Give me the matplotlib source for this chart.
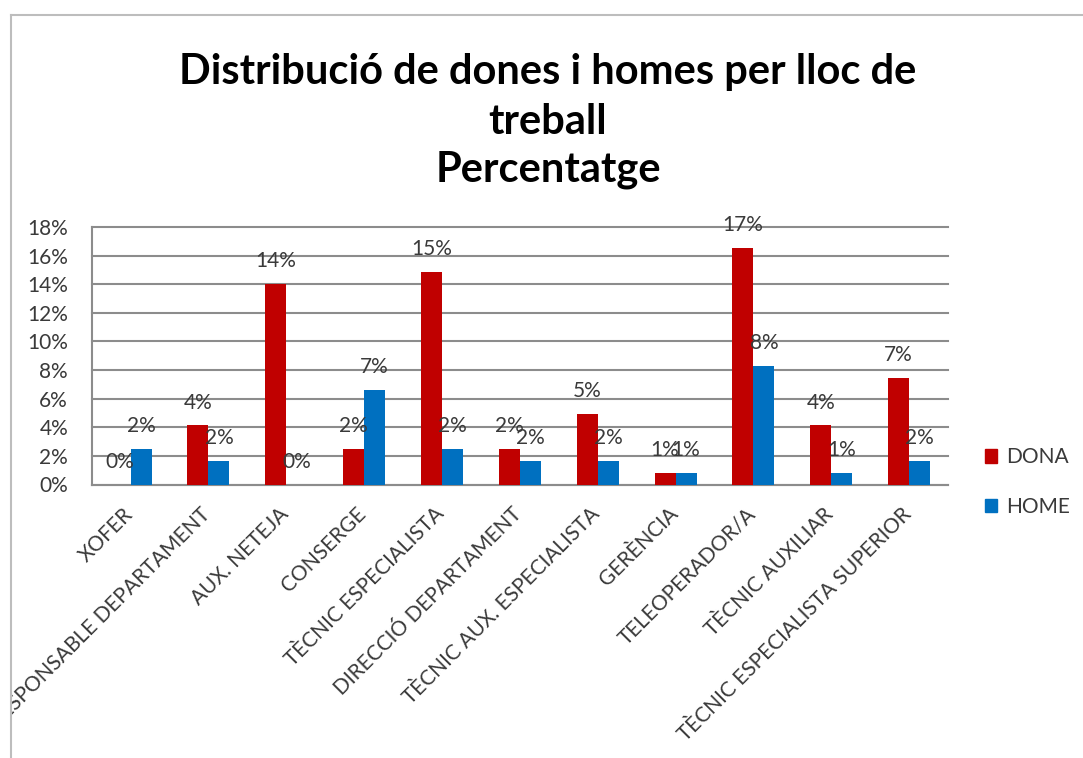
import matplotlib
matplotlib.use("Agg")
import matplotlib.pyplot as plt
import numpy as np
from matplotlib.transforms import Bbox, TransformedBbox, ScaledTranslation
from matplotlib.patches import Rectangle
from matplotlib.lines import Line2D

# Job categories and the share of staff (percent) for women and men
categories = [
    "XOFER",
    "RESPONSABLE DEPARTAMENT",
    "AUX. NETEJA",
    "CONSERGE",
    "TÈCNIC ESPECIALISTA",
    "DIRECCIÓ DEPARTAMENT",
    "TÈCNIC AUX. ESPECIALISTA",
    "GERÈNCIA",
    "TELEOPERADOR/A",
    "TÈCNIC AUXILIAR",
    "TÈCNIC ESPECIALISTA SUPERIOR",
]
dona = [0.0, 4.13, 14.05, 2.48, 14.88, 2.48, 4.96, 0.83, 16.53, 4.13, 7.44]
home = [2.48, 1.65, 0.0, 6.61, 2.48, 1.65, 1.65, 0.83, 8.26, 0.83, 1.65]
series_names = ["DONA", "HOME"]
y_ticks = [0, 2, 4, 6, 8, 10, 12, 14, 16, 18]
title_lines = ["Distribució de dones i homes per lloc de", "treball", "Percentatge"]

RED = "#C00000"
BLUE = "#0070C0"
GRID = "#8C8C8C"
TXT = "#3A3A3A"
FS = 15

plt.rcParams["font.family"] = ["Lato", "DejaVu Sans"]

W, H = 1083, 758
fig = plt.figure(figsize=(W / 100, H / 100), dpi=100)
fig.patch.set_facecolor("white")

left, right, top, bottom = 91.7, 948.0, 227.0, 484.5
ax = fig.add_axes([left / W, 1 - bottom / H, (right - left) / W, (bottom - top) / H])

x = np.arange(len(categories))
bw = 0.27
b1 = ax.bar(x - bw / 2, dona, bw, color=RED, zorder=3)
b2 = ax.bar(x + bw / 2, home, bw, color=BLUE, zorder=3)

for bars, vals in ((b1, dona), (b2, home)):
    for rect, v in zip(bars, vals):
        ax.annotate(f"{v:.0f}%", (rect.get_x() + rect.get_width() / 2, v),
                    xytext=(0, 16.5), textcoords="offset points",
                    ha="center", va="center", fontsize=FS, color=TXT, zorder=4)

ax.set_xlim(-0.5, len(categories) - 0.5)
ax.set_ylim(0, 18)
ax.set_yticks(y_ticks)
ax.set_yticklabels([f"{t}%" for t in y_ticks])
ax.yaxis.grid(True, color=GRID, lw=1.5)
for gl in ax.get_ygridlines():
    gl.set_clip_on(False)
ax.set_axisbelow(True)

for s in ("top", "right"):
    ax.spines[s].set_visible(False)
for s in ("left", "bottom"):
    ax.spines[s].set_color(GRID)
    ax.spines[s].set_linewidth(1.5)

ax.tick_params(axis="y", length=0, pad=17, labelsize=FS, labelcolor=TXT)
ax.tick_params(axis="x", length=0, pad=14, labelsize=FS, labelcolor=TXT)
ax.set_xticks(x)
ax.set_xticklabels(categories, rotation=45, ha="right", rotation_mode="anchor")

clip = TransformedBbox(Bbox([[10.7 / W, 0], [1, 1]]), fig.transFigure)
shift = ScaledTranslation(-8 / 100, 0, fig.dpi_scale_trans)
for lab in ax.get_xticklabels():
    lab.set_transform(lab.get_transform() + shift)
    lab.set_clip_box(clip)
    lab.set_clip_on(True)

# Title
for txt, yc in zip(title_lines, (72, 122, 170)):
    fig.text(548 / W, 1 - yc / H, txt, ha="center", va="center",
             fontsize=30, fontweight="bold", color="black")

# Legend
handles = [Rectangle((0, 0), 1, 1, color=RED), Rectangle((0, 0), 1, 1, color=BLUE)]
fig.legend(handles, series_names, loc="center left",
           bbox_to_anchor=(966 / W, 1 - 482 / H), frameon=False,
           fontsize=FS, handlelength=0.6, handleheight=0.6,
           handletextpad=0.45, labelspacing=1.4, labelcolor=TXT)

# Chart border
fig.add_artist(Line2D([10.7 / W, 10.7 / W], [0, 1 - 15 / H],
                      transform=fig.transFigure, color="#BDBDBD", lw=1.5))
fig.add_artist(Line2D([10.7 / W, 1], [1 - 15 / H, 1 - 15 / H],
                      transform=fig.transFigure, color="#BDBDBD", lw=1.5))

fig.savefig("out.png", dpi=100)
